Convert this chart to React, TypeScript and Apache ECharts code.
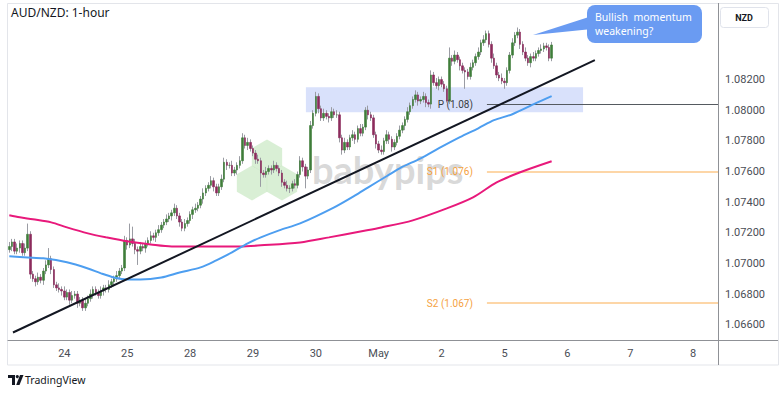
import React, { useEffect, useRef } from "react";
import * as echarts from "echarts";

// ---------- data (AUD/NZD, 1-hour) ----------
const FIRST_OPEN = 1.0709;
const CLOSES = [
  1.0711, 1.0714, 1.0708, 1.071, 1.0713, 1.0707, 1.071, 1.0719, 1.0693, 1.069,
  1.0688, 1.0691, 1.0689, 1.0695, 1.0699, 1.0703, 1.0696, 1.0686, 1.0684, 1.0683,
  1.0682, 1.0678, 1.0681, 1.0676, 1.0679, 1.068, 1.0674, 1.0676, 1.0671, 1.0674,
  1.0677, 1.068, 1.0683, 1.0681, 1.0679, 1.0682, 1.0684, 1.0683, 1.0686, 1.0688,
  1.069, 1.0692, 1.0695, 1.0697, 1.0715, 1.0712, 1.0716, 1.0713, 1.0709, 1.0708,
  1.0711, 1.071, 1.0713, 1.0715, 1.0718, 1.0717, 1.072, 1.0722, 1.0725, 1.0727,
  1.0729, 1.0731, 1.0733, 1.0736, 1.0731, 1.0727, 1.0723, 1.0726, 1.0728, 1.0732,
  1.0735, 1.0736, 1.0738, 1.0742, 1.0746, 1.0749, 1.0751, 1.0754, 1.075, 1.0746,
  1.075, 1.0755, 1.0766, 1.0764, 1.0764, 1.0759, 1.0761, 1.0764, 1.0767, 1.0782,
  1.0777, 1.0779, 1.0775, 1.0772, 1.0768, 1.0767, 1.0759, 1.0758, 1.076, 1.0762,
  1.0761, 1.0764, 1.0762, 1.0759, 1.0753, 1.0751, 1.0749, 1.0749, 1.0752, 1.0751,
  1.0758, 1.0767, 1.0763, 1.0757, 1.0761, 1.079, 1.0798, 1.0809, 1.0801, 1.0795,
  1.0798, 1.0796, 1.0795, 1.0799, 1.0797, 1.0797, 1.0782, 1.0774, 1.0779, 1.0776,
  1.0782, 1.0784, 1.0781, 1.0788, 1.0785, 1.0789, 1.08, 1.0797, 1.0795, 1.0784,
  1.0778, 1.0774, 1.0773, 1.078, 1.0784, 1.0781, 1.0776, 1.0779, 1.0783, 1.0787,
  1.079, 1.0794, 1.0799, 1.0803, 1.0807, 1.081, 1.0806, 1.0807, 1.0809, 1.0805,
  1.0804, 1.0823, 1.0818, 1.0816, 1.082, 1.0817, 1.0814, 1.0806, 1.0834, 1.0832,
  1.0836, 1.0833, 1.0829, 1.0826, 1.0825, 1.0822, 1.0828, 1.0831, 1.0835, 1.0838,
  1.0844, 1.0846, 1.085, 1.0843, 1.0834, 1.0829, 1.0823, 1.0821, 1.0819, 1.0818,
  1.0826, 1.0836, 1.0844, 1.0849, 1.0851, 1.0843, 1.0838, 1.0834, 1.0831, 1.0835,
  1.0834, 1.0837, 1.0839, 1.084, 1.0842, 1.0841, 1.0834, 1.08426,
];
// wick lengths in pips above the body top / below the body bottom
const UPPER_WICK_PIPS = [
  3, 2, 2, 3, 2, 2, 3, 7, 2, 2, 2, 3, 2, 2, 3, 7, 2, 2, 2, 3,
  2, 3, 2, 2, 3, 2, 2, 2, 2, 3, 2, 3, 2, 2, 2, 3, 2, 2, 3, 2,
  2, 3, 2, 2, 3, 2, 10, 8, 3, 2, 3, 2, 2, 2, 3, 2, 2, 3, 2, 2,
  3, 2, 2, 3, 2, 2, 2, 3, 2, 2, 2, 3, 2, 2, 3, 2, 2, 3, 2, 2,
  2, 3, 3, 2, 2, 3, 2, 2, 3, 3, 2, 3, 2, 2, 2, 3, 2, 2, 3, 2,
  2, 3, 2, 2, 2, 2, 3, 2, 2, 3, 2, 3, 2, 2, 2, 3, 2, 3, 2, 2,
  3, 2, 2, 3, 2, 3, 2, 2, 3, 2, 2, 3, 2, 2, 3, 2, 2, 3, 2, 2,
  2, 2, 3, 2, 3, 2, 2, 2, 2, 3, 2, 2, 3, 2, 2, 3, 2, 2, 3, 2,
  2, 3, 2, 3, 2, 2, 2, 2, 7, 2, 3, 2, 2, 2, 2, 2, 3, 2, 2, 3,
  2, 3, 2, 2, 2, 3, 2, 2, 3, 2, 2, 2, 3, 2, 3, 2, 2, 3, 2, 2,
  3, 2, 2, 3, 2, 2, 2, 2,
];
const LOWER_WICK_PIPS = [
  2, 3, 2, 2, 3, 2, 2, 2, 3, 2, 3, 2, 2, 3, 2, 2, 3, 2, 2, 2,
  3, 2, 2, 3, 2, 2, 3, 2, 2, 2, 2, 2, 3, 2, 2, 2, 3, 2, 2, 2,
  3, 2, 2, 2, 2, 3, 2, 2, 3, 9, 2, 2, 3, 2, 2, 2, 3, 2, 2, 2,
  2, 2, 3, 2, 2, 3, 2, 2, 2, 2, 3, 2, 2, 2, 3, 2, 2, 2, 3, 2,
  2, 2, 2, 3, 2, 2, 2, 3, 2, 2, 2, 3, 2, 2, 3, 2, 9, 2, 2, 2,
  3, 2, 2, 2, 3, 2, 2, 3, 2, 2, 2, 2, 3, 8, 2, 2, 2, 2, 3, 2,
  2, 2, 3, 2, 2, 2, 3, 3, 2, 2, 2, 2, 3, 2, 2, 2, 2, 3, 2, 2,
  3, 2, 2, 2, 2, 3, 3, 2, 2, 2, 2, 3, 2, 2, 2, 2, 3, 2, 2, 3,
  2, 3, 2, 2, 3, 2, 2, 1, 2, 3, 2, 2, 3, 2, 11, 2, 2, 2, 2, 2,
  2, 2, 2, 2, 3, 2, 2, 2, 2, 4, 2, 2, 2, 2, 2, 3, 2, 2, 2, 3,
  2, 2, 2, 2, 2, 2, 2, 2,
];

const CATEGORY_COUNT = 271; // hourly slots, incl. empty future space
const DAY_START_INDEX = [21, 45, 69, 93, 117, 141, 165, 189, 213, 237, 261];
const DAY_LABELS = ["24", "25", "28", "29", "30", "May", "2", "5", "6", "7", "8"];

// moving averages: [slot index, price]
const MA_BLUE = [
  [0, 1.07046], [7, 1.07039], [13, 1.07033], [22, 1.07007], [30, 1.06967],
  [35, 1.06935], [40, 1.06908], [45, 1.06895], [50, 1.06895], [58, 1.06908],
  [65, 1.06941], [73, 1.06974], [79, 1.0702], [85, 1.07072], [91, 1.07131],
  [96, 1.0717], [103, 1.07216], [111, 1.07261], [124, 1.07366], [132, 1.07444],
  [137, 1.07497], [144, 1.07569], [149, 1.07621], [157, 1.07686], [164, 1.07752],
  [172, 1.07824], [179, 1.07882], [185, 1.07935], [192, 1.07974], [201, 1.08046],
  [207, 1.08092],
];
const MA_PINK = [
  [0, 1.07314], [4, 1.07301], [9, 1.07288], [16, 1.07268], [22, 1.07235],
  [30, 1.07196], [37, 1.0717], [45, 1.07144], [54, 1.07124], [62, 1.07111],
  [73, 1.07111], [88, 1.07111], [96, 1.07118], [111, 1.07137], [122, 1.0717],
  [134, 1.07209], [142, 1.07235], [154, 1.07281], [167, 1.07359], [177, 1.07431],
  [186, 1.07529], [195, 1.07595], [207, 1.07667],
];
const TRENDLINE = [[1.4, 1.06549], [223.5, 1.08327]];
const RANGE_BOX = [[113.2, 1.0815], [219, 1.07987]];
const LEVEL_NAMES = ["P (1.08)", "S1 (1.076)", "S2 (1.067)"];
const LEVEL_VALUES = [1.0804, 1.076, 1.0674];
const LEVEL_START = 182.3;
const LAST_PRICE = 1.08426;
const CALLOUT_LINES = ["Bullish  momentum", "weakening?"];

// ---------- build series data ----------
const candles = CLOSES.map((c, i) => {
  const o = i === 0 ? FIRST_OPEN : CLOSES[i - 1];
  const hi = Math.max(o, c) + UPPER_WICK_PIPS[i] * 0.0001;
  const lo = Math.min(o, c) - LOWER_WICK_PIPS[i] * 0.0001;
  return [o, c, lo, hi];
});
const bodies = candles.map(([o, c]) => [o, c, Math.min(o, c), Math.max(o, c)]);
const categories = Array.from({ length: CATEGORY_COUNT }, (_, i) => String(i));

const UP = "#3f7d3a";
const DOWN = "#8c2b5c";
const WICK = "#9a9ca3";
const FONT = "Roboto";

function hex(cx: number, cy: number, r: number) {
  const pts: number[][] = [];
  for (let k = 0; k < 6; k++) {
    const a = (Math.PI / 180) * (-90 + 60 * k);
    pts.push([cx + r * Math.cos(a), cy + r * Math.sin(a)]);
  }
  return pts;
}

const levelColors = ["#555a60", "#fcc98a", "#fcc98a"];
const levelLabelColors = ["#3a3e44", "#f5a23f", "#f5a23f"];

const option: any = {
  animation: false,
  backgroundColor: "#ffffff",
  grid: { left: 8, right: 62, top: 3, bottom: 53, containLabel: false },
  xAxis: [
    {
      type: "category",
      data: categories,
      boundaryGap: true,
      axisLine: { show: true, lineStyle: { color: "#8f9196", width: 1 } },
      axisTick: { show: false },
      splitLine: { show: false },
      axisLabel: {
        interval: (index: number) => DAY_START_INDEX.indexOf(index) >= 0,
        formatter: (_v: string, index: number) => {
          const k = DAY_START_INDEX.indexOf(index);
          return k >= 0 ? DAY_LABELS[k] : "";
        },
        color: "#4a4d55",
        fontSize: 11,
        fontFamily: FONT,
        margin: 8,
      },
    },
    { type: "value", min: -0.5, max: CATEGORY_COUNT - 0.5, show: false },
  ],
  yAxis: {
    type: "value",
    position: "right",
    min: 1.065,
    max: 1.087,
    interval: 0.001,
    scale: true,
    axisLine: { show: false },
    axisTick: { show: false },
    splitLine: { show: false },
    axisLabel: {
      formatter: (v: number) => {
        const k = Math.round(v * 1000);
        if (k % 2 !== 0 || k === 1084 || k === 1086) return "";
        return v.toFixed(5);
      },
      color: "#4a4d55",
      fontSize: 11,
      fontFamily: FONT,
      margin: 7,
    },
  },
  series: [
    {
      name: "box",
      type: "line",
      xAxisIndex: 1,
      data: RANGE_BOX,
      symbol: "none",
      lineStyle: { opacity: 0 },
      z: 1,
      silent: true,
      markArea: {
        silent: true,
        itemStyle: { color: "#d9e1fb" },
        data: [[{ coord: RANGE_BOX[0] }, { coord: RANGE_BOX[1] }]],
      },
    },
    {
      name: "wicks",
      type: "candlestick",
      data: candles,
      barWidth: 1,
      z: 3,
      itemStyle: { color: WICK, color0: WICK, borderColor: WICK, borderColor0: WICK, borderWidth: 1 },
    },
    {
      name: "bodies",
      type: "candlestick",
      data: bodies,
      barWidth: 2,
      z: 4,
      itemStyle: { color: UP, color0: DOWN, borderColor: UP, borderColor0: DOWN, borderWidth: 0.6 },
      markLine: {
        silent: true,
        symbol: ["none", "none"],
        lineStyle: { opacity: 0 },
        data: [
          {
            yAxis: LAST_PRICE,
            label: {
              show: true,
              position: "end",
              distance: 0,
              formatter: LAST_PRICE.toFixed(5),
              color: "#ffffff",
              backgroundColor: "#f5136f",
              padding: [3, 6, 2, 6],
              fontSize: 11,
              fontFamily: FONT,
            },
          },
        ],
      },
    },
    {
      name: "levels",
      type: "line",
      xAxisIndex: 1,
      data: LEVEL_VALUES.map((v) => [LEVEL_START, v]),
      symbol: "none",
      lineStyle: { opacity: 0 },
      z: 5,
      markLine: {
        silent: true,
        symbol: ["none", "none"],
        data: LEVEL_VALUES.map((v, i) => [
          {
            coord: [LEVEL_START, v],
            lineStyle: { color: levelColors[i], width: i === 0 ? 1 : 1.5, type: "solid" },
            label: {
              show: true,
              position: "start",
              distance: 14,
              formatter: LEVEL_NAMES[i],
              color: levelLabelColors[i],
              fontSize: 10,
              fontFamily: FONT,
            },
          },
          { coord: [CATEGORY_COUNT - 0.5, v] },
        ]),
      },
    },
    {
      name: "MA slow",
      type: "line",
      xAxisIndex: 1,
      data: MA_PINK,
      smooth: 0.3,
      symbol: "none",
      lineStyle: { color: "#e8197b", width: 2 },
      z: 6,
    },
    {
      name: "MA fast",
      type: "line",
      xAxisIndex: 1,
      data: MA_BLUE,
      smooth: 0.3,
      symbol: "none",
      lineStyle: { color: "#4d9ef0", width: 2 },
      z: 6,
    },
    {
      name: "trend",
      type: "line",
      xAxisIndex: 1,
      data: TRENDLINE,
      symbol: "none",
      lineStyle: { color: "#131722", width: 2 },
      z: 7,
    },
  ],
  graphic: [
    // chart frame
    { type: "rect", z: 0, silent: true, shape: { x: 7.5, y: 3.5, width: 771, height: 361.5 }, style: { fill: "none", stroke: "#e3e5ea", lineWidth: 1 } },
    { type: "line", z: 10, silent: true, shape: { x1: 718.5, y1: 3, x2: 718.5, y2: 365 }, style: { stroke: "#8f9196", lineWidth: 1 } },
    { type: "line", z: 10, silent: true, shape: { x1: 718, y1: 340.5, x2: 778, y2: 340.5 }, style: { stroke: "#8f9196", lineWidth: 1 } },
    // watermark
    ...[hex(252, 183, 17.5), hex(282, 183, 17.5), hex(267, 157, 17.5)].map((pts) => ({
      type: "polygon",
      z: 0,
      silent: true,
      shape: { points: pts },
      style: { fill: "rgba(160, 215, 150, 0.4)" },
    })),
    {
      type: "text",
      z: 0,
      silent: true,
      x: 312,
      y: 169,
      style: { text: "babypips", fill: "rgba(185,185,185,0.55)", font: "bold 38px Lato", verticalAlign: "middle", align: "left" },
    },
    // title
    { type: "text", z: 20, x: 11, y: 12, style: { text: "AUD/NZD: 1-hour", fill: "#131722", font: "12px 'Noto Sans'", verticalAlign: "middle" } },
    // currency box
    { type: "rect", z: 20, shape: { x: 720.5, y: 7.5, width: 48, height: 20, r: 3 }, style: { fill: "#ffffff", stroke: "#e0e3eb", lineWidth: 1 } },
    { type: "text", z: 21, x: 744, y: 17.5, style: { text: "NZD", fill: "#131722", font: "bold 9px Roboto", align: "center", verticalAlign: "middle" } },
    // callout
    { type: "polygon", z: 20, shape: { points: [[533, 35], [592, 16], [592, 29]] }, style: { fill: "#6a9bf2" } },
    { type: "rect", z: 20, shape: { x: 587, y: 5, width: 115, height: 38, r: 8 }, style: { fill: "#6a9bf2" } },
    { type: "text", z: 21, x: 595, y: 16.5, style: { text: CALLOUT_LINES[0], fill: "#ffffff", font: "10.5px 'Noto Sans'", verticalAlign: "middle" } },
    { type: "text", z: 21, x: 595, y: 31, style: { text: CALLOUT_LINES[1], fill: "#ffffff", font: "10.5px 'Noto Sans'", verticalAlign: "middle" } },
    // TradingView footer
    { type: "polygon", z: 20, shape: { points: [[8, 375], [15, 375], [15, 385], [12, 385], [12, 378], [8, 378]] }, style: { fill: "#131722" } },
    { type: "circle", z: 20, shape: { cx: 17.3, cy: 376.6, r: 1.6 }, style: { fill: "#131722" } },
    { type: "polygon", z: 20, shape: { points: [[20, 375], [23.5, 375], [19.5, 385], [16.2, 385]] }, style: { fill: "#131722" } },
    { type: "text", z: 20, x: 25, y: 380, style: { text: "TradingView", fill: "#131722", font: "10.5px 'Noto Sans'", verticalAlign: "middle" } },
  ],
};

export default function App() {
  const ref = useRef<HTMLDivElement>(null);
  useEffect(() => {
    if (!ref.current) return;
    const chart = echarts.init(ref.current, null, { renderer: "svg" });
    chart.setOption(option);
    return () => chart.dispose();
  }, []);
  return (
    <div
      ref={ref}
      style={{ position: "fixed", left: 0, top: 0, width: 780, height: 393, background: "#ffffff" }}
    />
  );
}
